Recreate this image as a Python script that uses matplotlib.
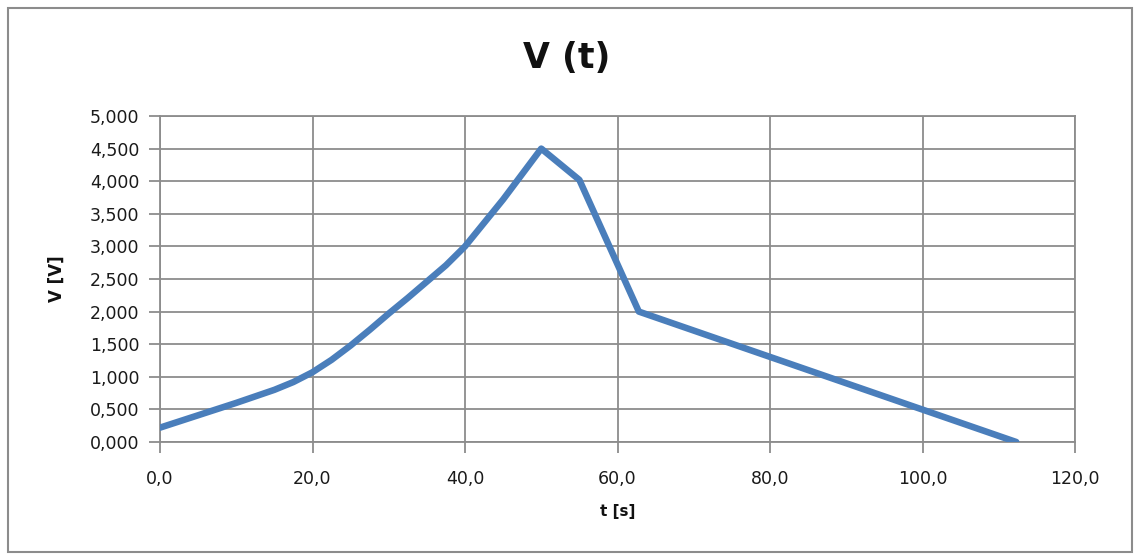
import matplotlib
matplotlib.use("Agg")
import matplotlib.pyplot as plt
from matplotlib.ticker import FuncFormatter, MultipleLocator
from matplotlib.patches import Rectangle

# data
t_values = [0, 5, 10, 12.5, 15, 17.5, 20, 22.5, 25, 27.5, 30, 32.5, 35, 37.5, 40, 45, 50, 55, 62.8, 112.3]
v_values = [0.22, 0.41, 0.60, 0.70, 0.80, 0.92, 1.07, 1.26, 1.48, 1.72, 1.97, 2.21, 2.46, 2.71, 3.00, 3.72, 4.50, 4.02, 2.00, 0.00]
title = "V (t)"
x_label = "t [s]"
y_label = "V [V]"

fig = plt.figure(figsize=(11.36, 5.56), dpi=100)
fig.patches.append(Rectangle((8 / 1136, 4 / 556), 1124 / 1136, 544 / 556,
                             transform=fig.transFigure, fill=False,
                             edgecolor="#8c8c8c", linewidth=1.5))

ax = fig.add_axes([160 / 1136, 1 - 442 / 556, (1075 - 160) / 1136, (442 - 116) / 556])
ax.plot(t_values, v_values, color="#4a7ebb", linewidth=4.7,
        solid_capstyle="round", solid_joinstyle="round", zorder=3)

ax.set_xlim(0, 120)
ax.set_ylim(0, 5)
ax.xaxis.set_major_locator(MultipleLocator(20))
ax.yaxis.set_major_locator(MultipleLocator(0.5))
ax.xaxis.set_major_formatter(FuncFormatter(lambda v, p: f"{v:.1f}".replace(".", ",")))
ax.yaxis.set_major_formatter(FuncFormatter(lambda v, p: f"{v:.3f}".replace(".", ",")))

ax.grid(True, color="#8c8c8c", linewidth=1.3)
for s in ax.spines.values():
    s.set_color("#8c8c8c")
    s.set_linewidth(1.3)
ax.tick_params(axis="both", color="#8c8c8c", width=1.3, length=8,
               labelsize=12.5, labelcolor="#1a1a1a")
ax.tick_params(axis="x", pad=12)
ax.tick_params(axis="y", pad=7)

fig.text(567 / 1136, 1 - 58 / 556, title, fontsize=25, fontweight="bold",
         ha="center", va="center", color="#111111")
ax.set_xlabel(x_label, fontsize=11, fontweight="bold", labelpad=12, color="#111111")
ax.set_ylabel(y_label, fontsize=12, fontweight="bold", labelpad=17, color="#111111")

fig.savefig("out.png", dpi=100)
